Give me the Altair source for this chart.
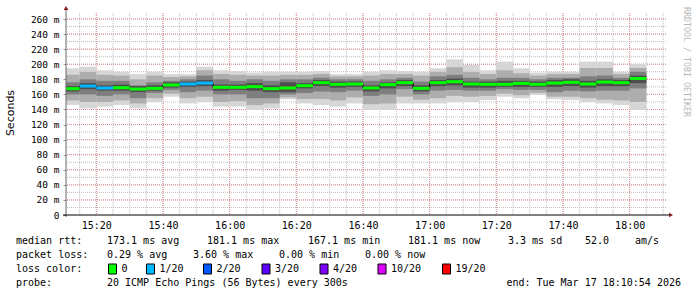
import altair as alt
import pandas as pd

# ---------------- data (5-minute steps, values in ms) ----------------
slot_start_min = [10 + 5 * i for i in range(35)]   # minutes after 15:00
median_ms = [167.6, 171.1, 168.5, 168.9, 167.1, 168.0, 172.5, 173.8, 175.1, 169.4,
             169.4, 170.3, 167.6, 168.5, 171.6, 175.6, 173.4, 173.8, 168.5, 172.9,
             175.6, 168.0, 175.6, 176.9, 173.8, 173.4, 173.4, 174.7, 173.4, 175.1,
             176.0, 173.8, 176.4, 175.6, 181.1]
ping_min = [146, 141.5, 143.7, 146, 141.5, 150, 157, 148, 150, 143.7,
            143.7, 139.3, 141.5, 153.5, 148, 146, 143.7, 148, 139.3, 139.3,
            148, 148, 148, 150, 150, 152.6, 157, 154.8, 159.2, 153.5,
            152.6, 150, 148, 146, 139.3]
ping_max = [194.6, 196.8, 192, 190, 187, 190, 187, 187, 196.8, 192,
            191, 188.8, 190, 190, 190, 191, 187, 187, 190, 192,
            191, 190, 194.6, 206.5, 199, 192, 203.4, 194.6, 188.8, 190,
            190, 203.4, 203.4, 190, 200.3]
ping_p10 = [152, 150, 150, 152, 148, 155, 161, 155, 157, 150,
            151, 146, 148, 156, 154, 154, 152, 156, 147, 148,
            157, 153, 155, 158, 157, 158, 161, 159, 162, 157,
            157, 155, 153, 152, 150]
ping_p90 = [186, 190, 186, 185, 180, 185, 183, 184, 192, 187,
            186, 185, 185, 186, 186, 187, 184, 184, 185, 187,
            187, 185, 190, 196, 190, 187, 192, 188, 185, 187,
            187, 195, 195, 187, 195]
ping_q1 = [160, 160, 158, 160, 155, 162, 166, 163, 165, 160,
           160, 155, 155, 160, 162, 164, 163, 165, 158, 160,
           167, 160, 165, 166, 165, 165, 167, 166, 166, 163,
           165, 164, 165, 165, 168]
ping_q3 = [176, 180, 178, 178, 172, 176, 178, 180, 185, 180,
           178, 180, 178, 180, 180, 182, 180, 180, 178, 180,
           182, 177, 184, 186, 182, 180, 182, 182, 180, 182,
           182, 184, 185, 182, 190]
ping_p40 = [164, 167, 165, 165, 163, 165, 169, 170, 171, 165,
            166, 165, 163, 163, 168, 171, 169, 170, 164, 168,
            171, 164, 171, 172, 169, 169, 170, 170, 170, 170,
            171, 169, 171, 171, 175]
ping_p60 = [171, 175, 172, 173, 171, 172, 176, 177, 179, 173,
            173, 175, 172, 176, 175, 179, 177, 177, 172, 176,
            179, 172, 179, 181, 177, 177, 178, 178, 177, 179,
            180, 178, 180, 179, 185]
loss_of_20 = [0, 1, 1, 0, 0, 0, 0, 1, 1, 0,
              0, 0, 0, 0, 0, 0, 0, 0, 0, 0,
              0, 0, 0, 0, 0, 0, 0, 0, 0, 0,
              0, 0, 0, 0, 0]

loss_levels = [0, 1, 2, 3, 4, 10, 19]
loss_labels = ["0", "1/20", "2/20", "3/20", "4/20", "10/20", "19/20"]
loss_colors = ["#00ff00", "#00b8ff", "#0059ff", "#5e00ff", "#7e00ff", "#dd00ff", "#ff0000"]

y_major = list(range(0, 261, 20))
y_minor = list(range(10, 261, 10))
x_major = list(range(20, 181, 20))
x_minor = list(range(15, 191, 5))

df = pd.DataFrame({
    "t0": slot_start_min,
    "t1": [s + 5 for s in slot_start_min],
    "med": median_ms, "mn": ping_min, "mx": ping_max,
    "p10": ping_p10, "p90": ping_p90, "q1": ping_q1, "q3": ping_q3,
    "p40": ping_p40, "p60": ping_p60, "loss": loss_of_20,
})

# ---------------- layout ----------------
W, H = 600, 202
MONO = "DejaVu Sans Mono"
xs = alt.Scale(domain=[10.9, 190.9], nice=False, zero=False)
ys = alt.Scale(domain=[0, 268], nice=False, zero=True)

base = alt.Chart(df)

xaxis = alt.Axis(values=x_major, grid=False, domain=False, ticks=False, title=None,
                 labelExpr="format(floor(datum.value/60)+15,'02d') + ':' + format(datum.value%60,'02d')",
                 labelFont=MONO, labelFontSize=10, labelColor="#000", labelPadding=5)
yaxis = alt.Axis(values=y_major, grid=False, domain=False, ticks=True, tickSize=3,
                 tickColor="#999", title=None,
                 labelExpr="datum.value == 0 ? '0\u00a0\u00a0' : datum.value + ' m'",
                 labelFont=MONO, labelFontSize=9.5, labelColor="#000", labelPadding=4)


def X(field):
    return alt.X(field, scale=xs, axis=xaxis)


def Y(field):
    return alt.Y(field, scale=ys, axis=yaxis)


layers = []

# grid
MINOR_C, MAJOR_C = "#bdbdbd", "#e48c8c"
layers.append(alt.Chart(pd.DataFrame({"m": x_minor})).mark_rule(
    color=MINOR_C, strokeDash=[1, 1], strokeWidth=1).encode(x=X("m:Q")))
layers.append(alt.Chart(pd.DataFrame({"v": y_minor})).mark_rule(
    color=MINOR_C, strokeDash=[1, 1], strokeWidth=1).encode(y=Y("v:Q")))
layers.append(alt.Chart(pd.DataFrame({"m": x_major})).mark_rule(
    color=MAJOR_C, strokeDash=[1, 1], strokeWidth=1).encode(x=X("m:Q")))
layers.append(alt.Chart(pd.DataFrame({"v": y_major[1:]})).mark_rule(
    color=MAJOR_C, strokeDash=[1, 1], strokeWidth=1).encode(y=Y("v:Q")))

# smoke
for lo, hi, col in [("mn", "mx", "#d6d6d6"), ("p10", "p90", "#adadad"),
                    ("q1", "q3", "#7e7e7e"), ("p40", "p60", "#4e4e4e")]:
    layers.append(base.mark_rect(color=col, clip=True).encode(
        x=X("t0:Q"), x2="t1:Q", y=Y(f"{lo}:Q"), y2=f"{hi}:Q"))

# median step connector and coloured median
layers.append(base.mark_line(interpolate="step-after", color="#000", strokeWidth=1, clip=True).encode(
    x=X("t0:Q"), y=Y("med:Q")))
layers.append(base.mark_rule(strokeWidth=3, clip=True, strokeCap="butt").encode(
    x=X("t0:Q"), x2="t1:Q", y=Y("med:Q"),
    color=alt.Color("loss:O", scale=alt.Scale(domain=loss_levels, range=loss_colors), legend=None)))

dummy = alt.Chart(pd.DataFrame({"a": [0]}))

# axis lines and arrows
layers.append(dummy.mark_rule(color="#666", strokeWidth=1).encode(
    x=alt.value(0), y=alt.value(-4), y2=alt.value(H + 2)))
layers.append(dummy.mark_rule(color="#000", strokeWidth=1).encode(
    x=alt.value(-3), x2=alt.value(W + 5), y=alt.value(H)))
layers.append(dummy.mark_point(shape="triangle-up", filled=True, color="#8b1a1a", size=22, opacity=1).encode(
    x=alt.value(0), y=alt.value(-5)))
layers.append(dummy.mark_point(shape="triangle-right", filled=True, color="#8b1a1a", size=22, opacity=1).encode(
    x=alt.value(W + 5), y=alt.value(H)))


def txt(s, x, y, align="left", size=10, color="#000", font=MONO, angle=0):
    kw = dict(text=s, align=align, baseline="middle", font=font, fontSize=size, color=color)
    if angle:
        kw["angle"] = angle
    return dummy.mark_text(**kw).encode(x=alt.value(x), y=alt.value(y))


# y title and watermark
layers.append(txt("Seconds", -55, 100, align="center", size=11, font="DejaVu Sans", angle=270))
layers.append(txt("RRDTOOL / TOBI OETIKER", 620, 49, align="center", size=8.3, color="#b8b8b8", angle=90))

# legend text
L1, L2, L3, L4 = 228, 242, 256, 270
for s, x in [("median rtt:", -50), ("173.1 ms avg", 41), ("181.1 ms max", 141),
             ("167.1 ms min", 242), ("181.1 ms now", 342), ("3.3 ms sd", 442),
             ("52.0", 519), ("am/s", 569)]:
    layers.append(txt(s, x, L1))
for s, x in [("packet loss:", -50), ("0.29 % avg", 41), ("3.60 % max", 127),
             ("0.00 % min", 213), ("0.00 % now", 299)]:
    layers.append(txt(s, x, L2))
layers.append(txt("loss color:", -50, L3))
box_x = [42.5, 80.5, 137.5, 196, 254, 312, 376.5]
for bx, lab, col in zip(box_x, loss_labels, loss_colors):
    layers.append(dummy.mark_rect(fill=col, stroke="#000", strokeWidth=1).encode(
        x=alt.value(bx), x2=alt.value(bx + 8), y=alt.value(L3 - 5), y2=alt.value(L3 + 5)))
    layers.append(txt(lab, bx + 13, L3))
layers.append(txt("probe:", -50, L4))
layers.append(txt("20 ICMP Echo Pings (56 Bytes) every 300s", 41, L4))
layers.append(txt("end: Tue Mar 17 18:10:54 2026", 615, L4, align="right"))

chart = alt.layer(*layers).properties(
    width=W, height=H,
    autosize=alt.AutoSizeParams(type="none"),
    padding={"left": 66, "top": 13, "right": 31, "bottom": 82},
    background="white",
).configure_view(stroke=None)

chart.save("out.html", embed_options={"renderer": "svg", "actions": False})
